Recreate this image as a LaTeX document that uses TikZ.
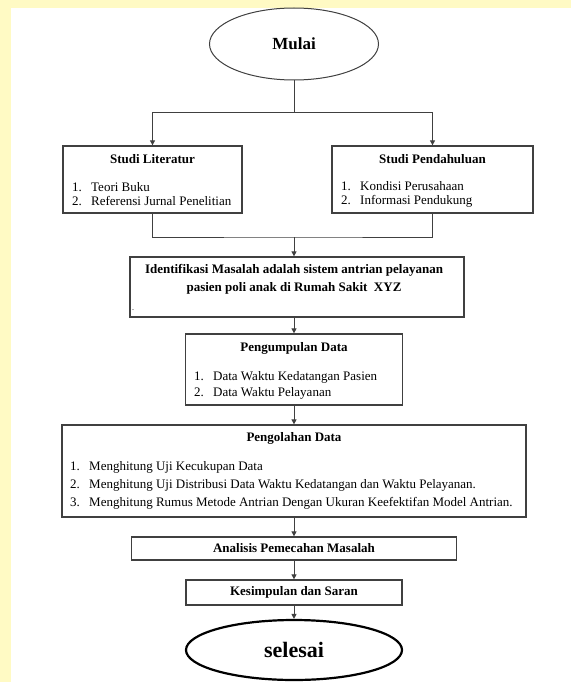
\documentclass[tikz,border=0pt]{standalone}
\usepackage{fontspec}
\setmainfont{Liberation Serif}
\usetikzlibrary{arrows.meta, positioning, shapes.geometric}
\definecolor{linegray}{RGB}{64,64,64}
\definecolor{pageyellow}{RGB}{255,250,196}
\newcommand{\itemno}[2]{\makebox[19pt][l]{#1}#2}

\begin{document}
\begin{tikzpicture}[
    x=1pt, y=-1pt,
    >={Triangle[length=5pt, width=5pt]},
    boxnode/.style={draw=linegray, line width=1.3pt, inner sep=0pt, align=center, font=\fontsize{13}{15}\selectfont\bfseries},
    titletext/.style={inner sep=0pt, font=\fontsize{13}{15}\selectfont\bfseries},
    itemlist/.style={inner sep=0pt, anchor=west, align=left, font=\fontsize{13}{#1}\selectfont},
    link/.style={draw=linegray, line width=1pt},
]
    \useasboundingbox (0,0) rectangle (571,682);
    \fill[pageyellow] (0,0) rectangle (571,682);
    \fill[white] (11,8) rectangle (571,682);

    % start
    \node[ellipse, draw=linegray, line width=1pt, minimum width=169pt, minimum height=72pt, font=\fontsize{17}{20}\selectfont\bfseries] (mulai) at (294,44) {Mulai};

    % two studies
    \node[boxnode, minimum width=179pt, minimum height=67pt] (lit) at (152.5,179.5) {};
    \node[titletext] (littitle) at (152.5,159) {Studi Literatur};
    \node[itemlist=14pt] (litlist) at (72,194) {\itemno{1.}{Teori Buku}\\\itemno{2.}{Referensi Jurnal Penelitian}};

    \node[boxnode, minimum width=201pt, minimum height=67pt] (pend) at (432.5,179.5) {};
    \node[titletext] (pendtitle) at (432.5,159) {Studi Pendahuluan};
    \node[itemlist=14pt] (pendlist) at (341,194) {\itemno{1.}{Kondisi Perusahaan}\\\itemno{2.}{Informasi Pendukung}};

    % problem
    \node[boxnode, minimum width=334pt, minimum height=60pt] (ident) at (297,287) {};
    \node[titletext, align=center, font=\fontsize{13}{18}\selectfont\bfseries] (identtext) at (294,279) {Identifikasi Masalah adalah sistem antrian pelayanan\\pasien poli anak di Rumah Sakit\ \ XYZ};
    \node[inner sep=0pt, font=\fontsize{8}{8}\selectfont] (identdot) at (133,310) {.};

    % data
    \node[boxnode, minimum width=217pt, minimum height=71pt] (kumpul) at (294,369.5) {};
    \node[titletext] (kumpultitle) at (294,348) {Pengumpulan Data};
    \node[itemlist=16pt] (kumpullist) at (194,385) {\itemno{1.}{Data Waktu Kedatangan Pasien}\\\itemno{2.}{Data Waktu Pelayanan}};

    \node[boxnode, minimum width=464pt, minimum height=92pt] (olah) at (294,471) {};
    \node[titletext] (olahtitle) at (294,438) {Pengolahan Data};
    \node[itemlist=18pt] (olahlist) at (70,485) {\itemno{1.}{Menghitung Uji Kecukupan Data}\\\itemno{2.}{Menghitung Uji Distribusi Data Waktu Kedatangan dan Waktu Pelayanan.}\\\itemno{3.}{Menghitung Rumus Metode Antrian Dengan Ukuran Keefektifan Model Antrian.}};

    % end
    \node[boxnode, minimum width=325pt, minimum height=23pt] (analisis) at (294,548.5) {Analisis Pemecahan Masalah};
    \node[boxnode, minimum width=216pt, minimum height=25pt] (simpul) at (294,592.5) {Kesimpulan dan Saran};
    \node[ellipse, draw=black, line width=2.2pt, minimum width=216pt, minimum height=60pt, font=\fontsize{22}{26}\selectfont\bfseries] (selesai) at (294,650) {selesai};

    \coordinate (split) at (294,113);
    \coordinate (join) at (294,237);

    \draw[link] (mulai) -- (split);
    \draw[link, ->] (split) -| (lit.north);
    \draw[link, ->] (split) -| (pend.north);
    \draw[link] (lit.south) |- (join) -| (pend.south);
    \draw[link, ->] (join) -- (join |- ident.north);
    \draw[link, ->] (ident.south -| kumpul.north) -- (kumpul.north);
    \draw[link, ->] (kumpul) -- (olah);
    \draw[link, ->] (olah) -- (analisis);
    \draw[link, ->] (analisis) -- (simpul);
    \draw[link, ->] (simpul) -- (selesai);
\end{tikzpicture}
\end{document}
